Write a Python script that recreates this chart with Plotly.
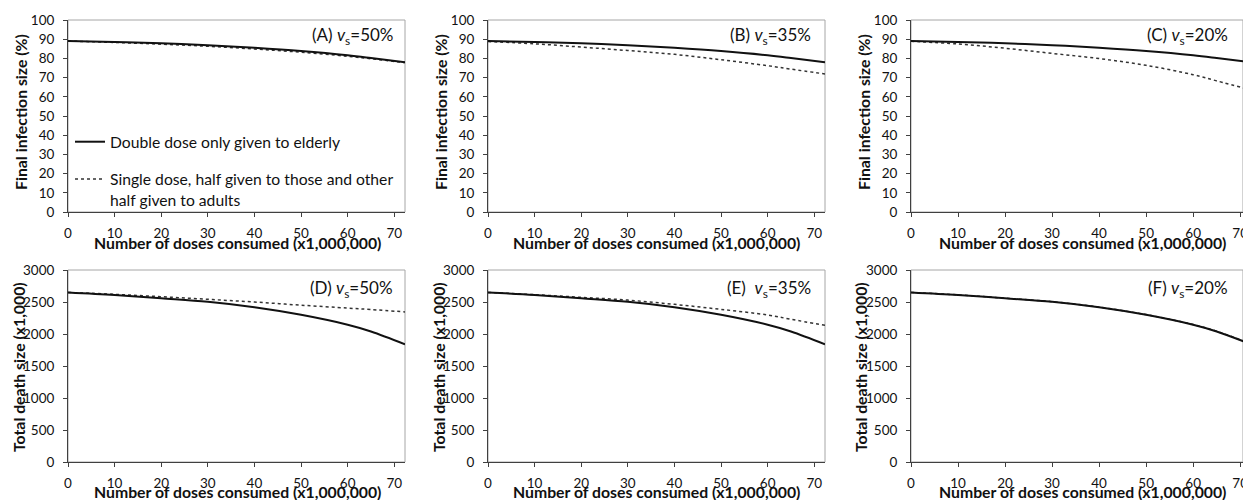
import plotly.graph_objects as go

# ---- data ----
doses = [0, 10, 20, 30, 40, 50, 60, 65, 72.3]

infect_double = [89.0, 88.6, 87.9, 86.9, 85.5, 83.8, 81.6, 80.2, 78.0]
infect_single_50 = [89.0, 88.3, 87.4, 86.3, 84.9, 83.2, 81.1, 79.8, 77.8]
infect_single_35 = [88.8, 87.6, 85.9, 84.1, 82.1, 79.3, 76.2, 74.4, 71.9]
infect_single_20 = [88.9, 87.5, 85.3, 82.6, 79.9, 76.4, 71.5, 68.3, 63.6]

death_double = [2650, 2610, 2558, 2503, 2418, 2300, 2145, 2040, 1840]
death_single_50 = [2650, 2620, 2583, 2542, 2500, 2450, 2405, 2382, 2345]
death_single_35 = [2650, 2614, 2573, 2530, 2463, 2385, 2297, 2230, 2135]
death_single_20 = [2650, 2611, 2560, 2505, 2420, 2303, 2148, 2043, 1845]

x_ticks = [0, 10, 20, 30, 40, 50, 60, 70]
infect_ticks = list(range(0, 101, 10))
death_ticks = list(range(0, 3001, 500))

panel_labels = ["(A) <i>v</i><sub>s</sub>=50%", "(B) <i>v</i><sub>s</sub>=35%", "(C) <i>v</i><sub>s</sub>=20%",
                "(D) <i>v</i><sub>s</sub>=50%", "(E)  <i>v</i><sub>s</sub>=35%", "(F) <i>v</i><sub>s</sub>=20%"]
legend_names = ["Double dose only given to elderly",
                "Single dose, half given to those and other<br>half given to adults"]
x_title = "Number of doses consumed (x1,000,000)"
y_titles = ["Final infection size (%)", "Total death size (x1,000)"]

# ---- layout geometry (pixels) ----
W, H = 1243, 500
cols = [(68, 405), (488, 825), (911, 1243)]
rows = [(20, 212), (270, 462)]
x_ranges = [[0, 72.3], [0, 72.3], [0, 70.6]]

FONT = "Lato, Carlito, Calibri, sans-serif"
AX = "#404040"

fig = go.Figure()

panels = [
    (infect_double, infect_single_50, 0, 0),
    (infect_double, infect_single_35, 0, 1),
    (infect_double, infect_single_20, 0, 2),
    (death_double, death_single_50, 1, 0),
    (death_double, death_single_35, 1, 1),
    (death_double, death_single_20, 1, 2),
]

for i, (solid, dotted, r, c) in enumerate(panels):
    n = i + 1
    xa = "x" if n == 1 else f"x{n}"
    ya = "y" if n == 1 else f"y{n}"
    fig.add_trace(go.Scatter(x=doses, y=dotted, mode="lines", xaxis=xa, yaxis=ya,
                             line=dict(color="#333333", width=1.5, dash="dot", shape="spline"),
                             name=legend_names[1], legendgroup="b", showlegend=(n == 1),
                             legendrank=2))
    fig.add_trace(go.Scatter(x=doses, y=solid, mode="lines", xaxis=xa, yaxis=ya,
                             line=dict(color="#111111", width=2, shape="spline"),
                             name=legend_names[0], legendgroup="a", showlegend=(n == 1),
                             legendrank=1))

    x0, x1 = cols[c]
    y0, y1 = rows[r]
    xkey = "xaxis" if n == 1 else f"xaxis{n}"
    ykey = "yaxis" if n == 1 else f"yaxis{n}"
    fig.layout[xkey] = dict(
        domain=[x0 / W, x1 / W], anchor=ya, range=x_ranges[c],
        tickvals=x_ticks, ticks="outside", ticklen=4, tickcolor=AX, tickwidth=1,
        showline=True, linecolor=AX, linewidth=1, showgrid=False, zeroline=False,
        tickfont=dict(family=FONT, size=13.5, color="#111"), ticklabelstandoff=5,
        ticklabeloverflow="allow",
        automargin=False, fixedrange=True)
    fig.layout[ykey] = dict(
        domain=[1 - y1 / H, 1 - y0 / H], anchor=xa,
        range=[0, 100] if r == 0 else [0, 3000],
        tickvals=infect_ticks if r == 0 else death_ticks,
        ticks="outside", ticklen=4, tickcolor=AX, tickwidth=1,
        showline=True, linecolor=AX, linewidth=1, showgrid=False, zeroline=False,
        tickfont=dict(family=FONT, size=13.5, color="#111"), ticklabelstandoff=6,
        automargin=False, fixedrange=True)

    # light frame around plot area
    fig.add_shape(type="rect", xref=f"{xa} domain", yref=f"{ya} domain",
                  x0=0, x1=1, y0=0, y1=1, line=dict(color="#a6a6a6", width=1), layer="below")

    # panel label
    lab_x = [395, 813, 1230][c]
    lab_y = [36, 289][r]
    fig.add_annotation(x=lab_x / W, y=1 - lab_y / H, xref="paper", yref="paper",
                       text=panel_labels[i], showarrow=False, xanchor="right", yanchor="middle",
                       font=dict(family=FONT, size=17, color="#111"))

    # x title
    xt_x = [237, 656, 1082][c]
    xt_y = [242, 491][r]
    fig.add_annotation(x=xt_x / W, y=1 - xt_y / H, xref="paper", yref="paper",
                       text=f"<b>{x_title}</b>", showarrow=False, xanchor="center", yanchor="middle",
                       font=dict(family=FONT, size=15.8, color="#111"))
    # y title
    yt_x = [[21, 441, 864], [18, 438, 860]][r][c]
    yt_y = [112, 367][r]
    fig.add_annotation(x=yt_x / W, y=1 - yt_y / H, xref="paper", yref="paper",
                       text=f"<b>{y_titles[r]}</b>", showarrow=False, textangle=-90,
                       xanchor="center", yanchor="middle",
                       font=dict(family=FONT, size=15.8, color="#111"))

fig.update_layout(
    width=W, height=H, autosize=False,
    margin=dict(l=0, r=0, t=0, b=0, pad=0),
    paper_bgcolor="white", plot_bgcolor="white",
    showlegend=True,
    legend=dict(x=70 / W, y=1 - 125 / H, xanchor="left", yanchor="top",
                bgcolor="rgba(0,0,0,0)", borderwidth=0,
                font=dict(family=FONT, size=15.7, color="#111"),
                valign="top", tracegroupgap=14, itemwidth=30),
)

fig.write_html("out.html", config={"displayModeBar": False},
               post_script="document.body.style.margin='0';document.body.style.padding='0';")
